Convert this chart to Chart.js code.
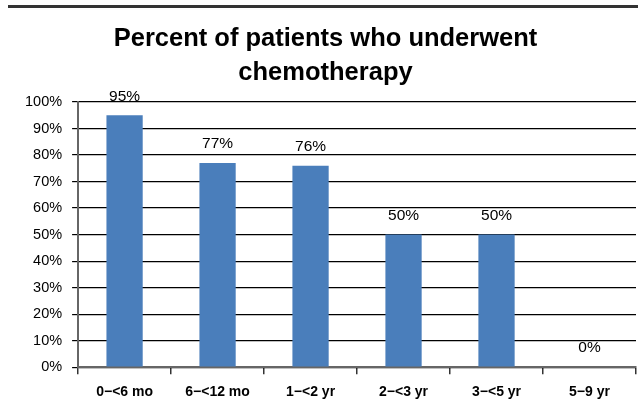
<!DOCTYPE html>
<html>
<head>
<meta charset="utf-8">
<script src="https://cdn.jsdelivr.net/npm/chart.js@4"></script>
<style>
  html, body { margin: 0; padding: 0; background: #fff; }
  #wrap { width: 638px; height: 412px; }
</style>
</head>
<body>
<div id="wrap"><canvas id="myChart" width="638" height="412"></canvas></div>
<script>
var categories = ["0\u2212<6 mo", "6\u2212<12 mo", "1\u2212<2 yr", "2\u2212<3 yr", "3\u2212<5 yr", "5\u22129 yr"];
var percentChemo = [95, 77, 76, 50, 50, 0];
var titleLines = ["Percent of patients who underwent", "chemotherapy"];

// top rule + value labels above bars
var decorPlugin = {
  id: 'decor',
  beforeDraw: function(chart) {
    var ctx = chart.ctx;
    ctx.save();
    ctx.strokeStyle = "#333333";
    ctx.lineWidth = 3;
    ctx.beginPath();
    ctx.moveTo(8, 6.5);
    ctx.lineTo(chart.width, 6.5);
    ctx.stroke();
    ctx.restore();
  },
  afterDatasetsDraw: function(chart) {
    var ctx = chart.ctx;
    var meta = chart.getDatasetMeta(0);
    ctx.save();
    ctx.font = "15.5px 'Liberation Sans', Arial, sans-serif";
    ctx.fillStyle = "#000";
    ctx.textAlign = "center";
    ctx.textBaseline = "middle";
    meta.data.forEach(function(bar, i) {
      ctx.fillText(percentChemo[i] + "%", bar.x, bar.y - 19);
    });
    ctx.restore();
  }
};

var ctx = document.getElementById("myChart").getContext("2d");
var myChart = new Chart(ctx, {
  type: 'bar',
  data: {
    labels: categories,
    datasets: [{
      data: percentChemo,
      backgroundColor: "#4a7ebb",
      borderWidth: 0,
      barPercentage: 0.39,
      categoryPercentage: 1
    }]
  },
  plugins: [decorPlugin],
  options: {
    responsive: false,
    animation: false,
    layout: { padding: { left: 15, right: 2, top: 0, bottom: 1 } },
    plugins: {
      legend: { display: false },
      tooltip: { enabled: false },
      title: {
        display: true,
        text: titleLines,
        color: "#000",
        font: { family: "'Liberation Sans', Arial, sans-serif", size: 25.5, weight: 'bold', lineHeight: 1.333 },
        padding: { top: 22, bottom: 12 }
      }
    },
    scales: {
      x: {
        grid: { drawOnChartArea: false, drawTicks: true, tickLength: 7, color: "#333", lineWidth: 1.5 },
        border: { color: "#666", width: 2 },
        ticks: {
          color: "#000",
          padding: 10,
          maxRotation: 0,
          font: { family: "'Liberation Sans', Arial, sans-serif", size: 14, weight: 'bold' }
        }
      },
      y: {
        min: 0,
        max: 100,
        grid: { color: "#000", lineWidth: 1.2, tickLength: 6 },
        border: { color: "#666", width: 2 },
        ticks: {
          stepSize: 10,
          color: "#000",
          padding: 10,
          font: { family: "'Liberation Sans', Arial, sans-serif", size: 14.5 },
          callback: function(v) { return v + "%"; }
        }
      }
    }
  }
});
</script>
</body>
</html>
